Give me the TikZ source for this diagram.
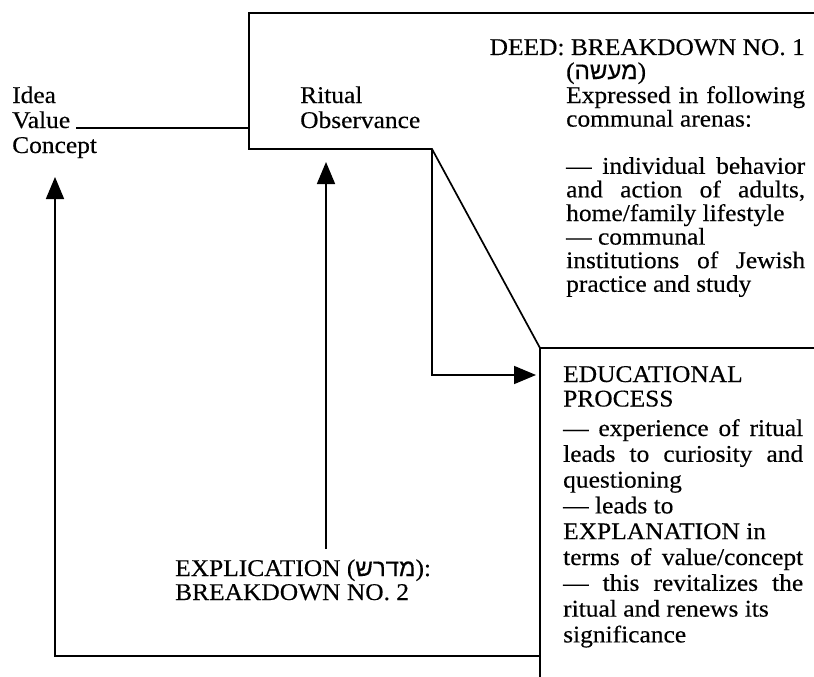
\documentclass[tikz,border=0pt]{standalone}
\usepackage{fontspec}
\setmainfont{Liberation Serif}[FakeStretch=1.06,FakeBold=0.3]
\newfontfamily\hebfont[Script=Hebrew,FakeBold=0.5]{Liberation Sans}
\usetikzlibrary{arrows.meta}
\TeXXeTstate=1
\newcommand\jline[1]{\hbox to\hsize{#1}}
\tikzset{
  ln/.style={line width=1.7pt},
  arr/.style={ln,-{Triangle[length=22pt,width=18pt]}},
  txt/.style={inner sep=0pt, anchor=base west, font=\fontsize{24}{25}\selectfont},
}
\begin{document}
\begin{tikzpicture}[x=1pt,y=-1pt]
\useasboundingbox (0,0) rectangle (814,677);
% frame coordinates
\coordinate (tl) at (249,13);
\coordinate (tr) at (814,13);
\coordinate (bl) at (249,149);
\coordinate (br) at (432,149);
\coordinate (lt) at (540,348);
\coordinate (ltr) at (814,348);
\coordinate (lb) at (540,677);
\coordinate (rtip) at (536,375);
\coordinate (mtop) at (326,162);
\coordinate (mbot) at (326,549);
\coordinate (ltop) at (55,177);
\coordinate (lbot) at (55,656);
\coordinate (bend) at (540,656);
% left texts
\node[txt] (idea) at (12,103) {Idea};
\node[txt] (value) at (12,128) {Value};
\node[txt] (concept) at (12,153) {Concept};
\node[txt] (ritual) at (300,103) {Ritual};
\node[txt] (obs) at (300,128) {Observance};
% upper box texts
\node[txt, anchor=base east] (deed) at (805,55) {DEED: BREAKDOWN NO. 1};
\node[txt] (heb) at (566,79) {({\hebfont\beginR מעשה\endR})};
\node[txt] (arenas) at (566,103) {\vtop{\hsize=239pt\baselineskip=23.6pt\lineskiplimit=-20pt
  \jline{Expressed in following}
  \hbox{communal arenas:}
  \hbox{}
  \jline{--- individual behavior}
  \jline{and action of adults,}
  \hbox{home/family lifestyle}
  \hbox{--- communal}
  \jline{institutions of Jewish}
  \hbox{practice and study}}};
% lower box texts
\node[txt] (edu) at (563,382) {\vtop{\hsize=240pt\baselineskip=24.5pt\lineskiplimit=-20pt
  \hbox{EDUCATIONAL}
  \hbox{PROCESS}}};
\node[txt] (proc) at (563,436) {\vtop{\hsize=240pt\baselineskip=25.8pt\lineskiplimit=-20pt
  \jline{--- experience of ritual}
  \jline{leads to curiosity and}
  \hbox{questioning}
  \hbox{--- leads to}
  \hbox{EXPLANATION in}
  \jline{terms of value/concept}
  \jline{--- this revitalizes the}
  \hbox{ritual and renews its}
  \hbox{significance}}};
% explication label
\node[txt] (expl) at (175,576) {EXPLICATION ({\hebfont\beginR מדרש\endR}):};
\node[txt] (brk) at (175,600) {BREAKDOWN NO. 2};
% lines
\draw[ln] (tr) -- (tl) -- (bl) -- (br) -- (lt);
\draw[ln] (ltr) -- (lt) -- (lb);
\draw[ln] ([xshift=6pt]value.base east) -- (value.base east -| tl);
\draw[arr] (br) |- (rtip);
\draw[arr] (mbot) -- (mtop);
\draw[arr] (bend) -- (lbot) -- (ltop);
\end{tikzpicture}
\end{document}
